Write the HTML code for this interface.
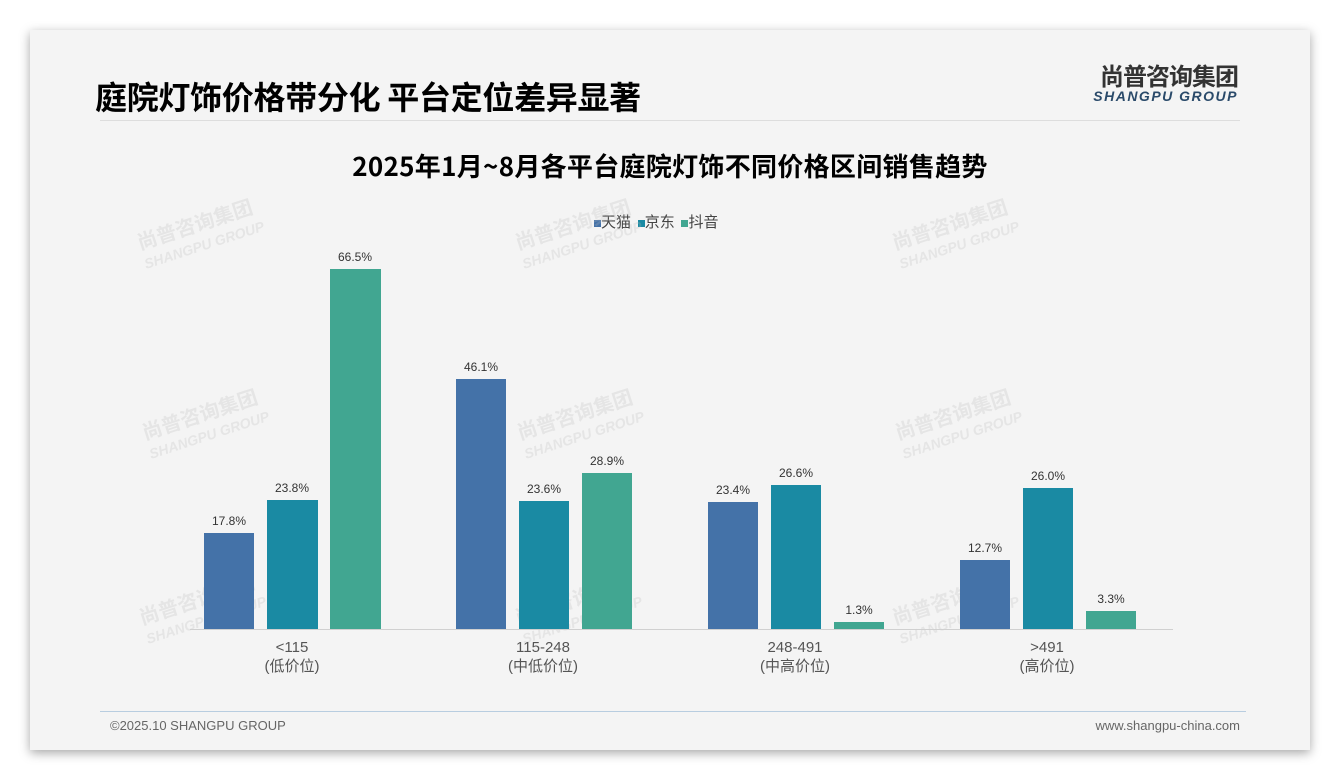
<!DOCTYPE html>
<html><head><meta charset="utf-8"><style>
body{margin:0;width:1340px;height:780px;background:#fff;overflow:hidden;font-family:"Liberation Sans","Noto Sans CJK SC",sans-serif}
.slide{position:absolute;left:30px;top:30px;width:1280px;height:720px;background:#f4f4f4;box-shadow:0 3px 10px rgba(0,0,0,.35)}
.abs{position:absolute}
</style></head><body>
<div class="slide"></div>
<div class="abs" style="left:95px;top:76px;font-size:32px;font-weight:bold;color:#000;font-family:'Noto Sans CJK SC',sans-serif;line-height:40px;letter-spacing:-0.3px">庭院灯饰价格带分化 平台定位差异显著</div>
<div class="abs" style="left:1060px;top:61px;width:178px;text-align:right;font-size:24px;font-weight:bold;color:#333;font-family:'Noto Sans CJK SC',sans-serif;line-height:28px;letter-spacing:-1px">尚普咨询集团</div>
<div class="abs" style="left:1060px;top:88px;width:178px;text-align:right;font-size:14px;font-weight:bold;font-style:italic;color:#2a4a6a;letter-spacing:1.5px">SHANGPU GROUP</div>
<div class="abs" style="left:100px;top:120px;width:1140px;height:1px;background:#ddd"></div>
<div class="abs" style="left:0;width:1340px;top:148px;text-align:center;font-size:26px;font-weight:bold;color:#000;font-family:'Noto Sans CJK SC',sans-serif;line-height:36px;letter-spacing:0.3px">2025年1月~8月各平台庭院灯饰不同价格区间销售趋势</div>
<div class="abs" style="left:594px;top:212px;font-size:15px;color:#444;line-height:20px;font-family:'Noto Sans CJK SC',sans-serif">
<span style="display:inline-block;width:7px;height:7px;background:#4472a8"></span>天猫&nbsp;&nbsp;<span style="display:inline-block;width:7px;height:7px;background:#1a8aa3"></span>京东&nbsp;&nbsp;<span style="display:inline-block;width:7px;height:7px;background:#41a691"></span>抖音</div>
<svg class="abs" style="left:0;top:0" width="1340" height="780">
<g font-family="Liberation Sans, Noto Sans CJK SC, sans-serif" fill="#bbb" opacity="0.25" font-weight="bold">
<g transform="translate(140,250) rotate(-18)"><text font-size="20">尚普咨询集团</text><text y="20" font-size="14" font-style="italic">SHANGPU GROUP</text></g>
<g transform="translate(518,250) rotate(-18)"><text font-size="20">尚普咨询集团</text><text y="20" font-size="14" font-style="italic">SHANGPU GROUP</text></g>
<g transform="translate(895,250) rotate(-18)"><text font-size="20">尚普咨询集团</text><text y="20" font-size="14" font-style="italic">SHANGPU GROUP</text></g>
<g transform="translate(145,440) rotate(-18)"><text font-size="20">尚普咨询集团</text><text y="20" font-size="14" font-style="italic">SHANGPU GROUP</text></g>
<g transform="translate(520,440) rotate(-18)"><text font-size="20">尚普咨询集团</text><text y="20" font-size="14" font-style="italic">SHANGPU GROUP</text></g>
<g transform="translate(898,440) rotate(-18)"><text font-size="20">尚普咨询集团</text><text y="20" font-size="14" font-style="italic">SHANGPU GROUP</text></g>
<g transform="translate(142,625) rotate(-18)"><text font-size="20">尚普咨询集团</text><text y="20" font-size="14" font-style="italic">SHANGPU GROUP</text></g>
<g transform="translate(518,625) rotate(-18)"><text font-size="20">尚普咨询集团</text><text y="20" font-size="14" font-style="italic">SHANGPU GROUP</text></g>
<g transform="translate(895,625) rotate(-18)"><text font-size="20">尚普咨询集团</text><text y="20" font-size="14" font-style="italic">SHANGPU GROUP</text></g>
</g>
<line x1="190" y1="629.5" x2="1173" y2="629.5" stroke="#d0d0d0"/>
<g font-size="12" fill="#333" text-anchor="middle" font-family="Liberation Sans, sans-serif">
<rect x="204" y="533" width="50" height="96" fill="#4472a8"/><text x="229" y="525">17.8%</text>
<rect x="267" y="500" width="51" height="129" fill="#1a8aa3"/><text x="292" y="492">23.8%</text>
<rect x="330" y="269" width="51" height="360" fill="#41a691"/><text x="355" y="261">66.5%</text>
<rect x="456" y="379" width="50" height="250" fill="#4472a8"/><text x="481" y="371">46.1%</text>
<rect x="519" y="501" width="50" height="128" fill="#1a8aa3"/><text x="544" y="493">23.6%</text>
<rect x="582" y="473" width="50" height="156" fill="#41a691"/><text x="607" y="465">28.9%</text>
<rect x="708" y="502" width="50" height="127" fill="#4472a8"/><text x="733" y="494">23.4%</text>
<rect x="771" y="485" width="50" height="144" fill="#1a8aa3"/><text x="796" y="477">26.6%</text>
<rect x="834" y="622" width="50" height="7" fill="#41a691"/><text x="859" y="614">1.3%</text>
<rect x="960" y="560" width="50" height="69" fill="#4472a8"/><text x="985" y="552">12.7%</text>
<rect x="1023" y="488" width="50" height="141" fill="#1a8aa3"/><text x="1048" y="480">26.0%</text>
<rect x="1086" y="611" width="50" height="18" fill="#41a691"/><text x="1111" y="603">3.3%</text>
</g>
<g font-size="15" fill="#555" text-anchor="middle" font-family="Liberation Sans, Noto Sans CJK SC, sans-serif">
<text x="292" y="652">&lt;115</text><text x="292" y="671">(低价位)</text>
<text x="543" y="652">115-248</text><text x="543" y="671">(中低价位)</text>
<text x="795" y="652">248-491</text><text x="795" y="671">(中高价位)</text>
<text x="1047" y="652">&gt;491</text><text x="1047" y="671">(高价位)</text>
</g>
<line x1="100" y1="711.5" x2="1246" y2="711.5" stroke="#b8cde0"/>
<text x="110" y="730" font-size="13" fill="#666" font-family="Liberation Sans, sans-serif">©2025.10 SHANGPU GROUP</text>
<text x="1240" y="730" font-size="13" fill="#666" text-anchor="end" font-family="Liberation Sans, sans-serif">www.shangpu-china.com</text>
</svg>
</body></html>
